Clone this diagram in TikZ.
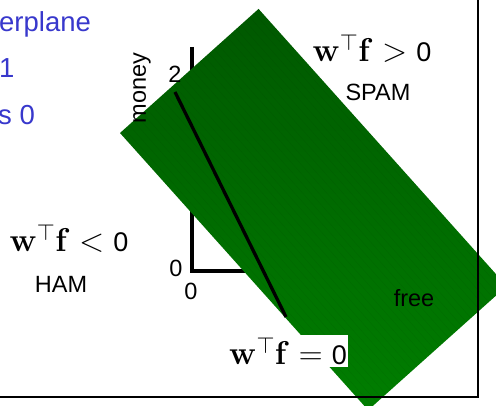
\documentclass[tikz,border=0pt]{standalone}
\usepackage{fix-cm}
\usepackage[no-math]{fontspec}
\setmainfont{Liberation Sans}
\definecolor{bluetext}{RGB}{56,56,204}
\definecolor{gbright}{RGB}{0,126,0}
\definecolor{gdark}{RGB}{0,88,0}
\tikzset{
  bluetxt/.style={text=bluetext, inner sep=0pt, font=\fontsize{27.5}{32}\selectfont},
  lbl/.style={inner sep=0pt, font=\fontsize{23.5}{28}\selectfont},
  mathlbl/.style={inner sep=0pt, font=\fontsize{33}{38}\selectfont},
  axisline/.style={line width=3.3pt, black},
  boundary/.style={line width=3.3pt, black},
  frameline/.style={line width=2.4pt, black},
}
\newcommand{\zerosans}{\mbox{\fontsize{27}{32}\selectfont 0}}
\begin{document}
\begin{tikzpicture}[x=1pt,y=1pt]
\useasboundingbox (0,0) rectangle (496,406);
\clip (0,0) rectangle (496,406);
% blue slide text (cut at the left edge)
\node[bluetxt, anchor=base west] (b1) at (-1,374) {erplane};
\node[bluetxt, anchor=base west] (b2) at (-1,328) {1};
\node[bluetxt, anchor=base west] (b3) at (-2,281) {s 0};
% axes
\coordinate (ytop) at (192,359);
\coordinate (orig) at (192,135);
\coordinate (xend) at (400,135);
\draw[axisline] (ytop) -- (orig) -- (xend);
% green half-plane
\begin{scope}[shift={(120,273)}, rotate=-48.16]
  \shade[bottom color=gbright, top color=gdark] (0,0) rectangle (372,186);
  \foreach \k in {6,12,...,180} \draw[black, opacity=0.06, line width=0.4pt] (0,\k) -- (372,\k);
\end{scope}
% axis labels
\node[lbl, anchor=base] (t2) at (175,323) {2};
\node[lbl, anchor=base] (t0y) at (176,129) {0};
\node[lbl, anchor=base] (t0x) at (191,106) {0};
\node[lbl, rotate=90] (money) at (142,318) {money};
\node[lbl, anchor=base] (free) at (414,99) {free};
% decision boundary
\coordinate (bl1) at (175,314);
\coordinate (bl2) at (286,89);
\draw[boundary] (bl1) -- (bl2);
% region labels
\node[mathlbl, anchor=base] (gt) at (372,344) {$\mathbf{w}^{\top}\mathbf{f} > \zerosans$};
\node[lbl, anchor=base] (spam) at (378,305) {SPAM};
\node[mathlbl, anchor=base] (lt) at (69,154) {$\mathbf{w}^{\top}\mathbf{f} < \zerosans$};
\node[lbl, anchor=base] (ham) at (61,113) {HAM};
\node[mathlbl, anchor=base, fill=white, inner sep=1.5pt] (eq) at (288,41) {$\mathbf{w}^{\top}\mathbf{f} = \zerosans$};
% frame
\coordinate (fc) at (478,9);
\coordinate (ftop) at (478,412);
\coordinate (fleft) at (-6,9);
\draw[frameline] (ftop) -- (fc) -- (fleft);
\end{tikzpicture}
\end{document}
